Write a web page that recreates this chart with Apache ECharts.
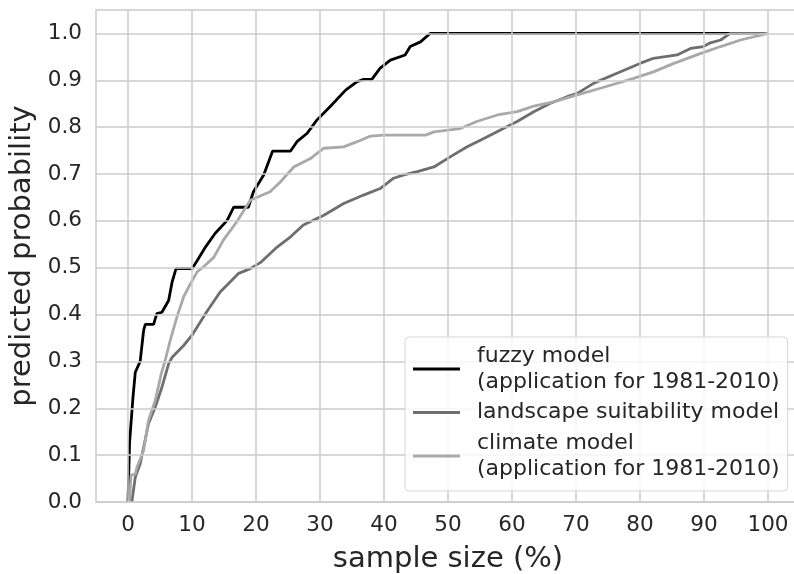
<!DOCTYPE html>
<html><head><meta charset="utf-8">
<script src="https://cdn.jsdelivr.net/npm/echarts@6/dist/echarts.min.js"></script>
<style>html,body{margin:0;padding:0;background:#fff}#c{width:794px;height:574px}</style>
</head><body><div id="c"></div>
<script>
var seriesNames = ['fuzzy model\n(application for 1981-2010)', 'landscape suitability model', 'climate model\n(application for 1981-2010)'];
var xTicks = [0,10,20,30,40,50,60,70,80,90,100];
var yTicks = [0.0,0.1,0.2,0.3,0.4,0.5,0.6,0.7,0.8,0.9,1.0];
var fuzzyX = [0,0.25,0.78,1.14,1.9,2.44,2.7,4.0,4.5,5.3,6.35,6.9,7.5,10.0,10.8,12.1,13.6,15.5,16.5,18.8,19.6,21.2,22.6,25.4,26.4,28.0,29.5,31.6,34.0,35.8,36.8,38.1,39.4,41.0,43.3,44.1,45.7,47.2,100];
var fuzzyY = [0,0.128,0.224,0.277,0.30,0.366,0.379,0.379,0.402,0.405,0.43,0.47,0.498,0.498,0.515,0.544,0.573,0.601,0.629,0.629,0.662,0.698,0.749,0.749,0.769,0.787,0.815,0.844,0.879,0.897,0.902,0.902,0.926,0.943,0.954,0.972,0.982,1.0,1.0];
var landX = [0.6,1.14,1.92,3.2,4.27,5.3,6.35,6.9,8.7,10.0,12.3,14.4,17.3,19.1,20.8,23.3,25.4,27.4,30.6,33.7,36.8,39.4,41.5,43.1,45.2,47.8,50.4,53.0,55.6,58.2,60.8,63.4,66.0,68.6,70.2,72.8,76.4,80.0,82.1,85.8,87.9,89.9,91.0,92.6,94.1,100];
var landY = [0,0.053,0.082,0.167,0.203,0.245,0.295,0.309,0.334,0.356,0.406,0.448,0.488,0.498,0.512,0.544,0.566,0.591,0.612,0.637,0.655,0.669,0.691,0.698,0.705,0.715,0.737,0.758,0.776,0.794,0.812,0.833,0.851,0.865,0.872,0.894,0.915,0.936,0.947,0.954,0.968,0.972,0.98,0.986,1.0,1.0];
var climX = [0.25,0.47,1.14,1.4,2.44,3.2,4.27,5.2,5.8,6.6,7.65,8.7,9.5,10.8,11.8,13.4,14.9,17.0,19.1,22.2,23.8,25.9,28.5,30.6,33.7,35.8,37.9,39.9,46.5,47.8,51.9,54.5,57.7,60.8,63.4,66.5,70.2,73.8,79.0,82.1,85.3,89.4,92.6,95.7,100];
var climY = [0,0.057,0.06,0.074,0.11,0.174,0.217,0.274,0.302,0.345,0.395,0.438,0.459,0.491,0.502,0.522,0.559,0.598,0.644,0.662,0.683,0.715,0.733,0.755,0.758,0.769,0.781,0.783,0.783,0.79,0.797,0.812,0.826,0.833,0.845,0.854,0.869,0.883,0.904,0.918,0.936,0.957,0.972,0.986,1.0];

function pairs(xs, ys){ return xs.map(function(x,i){return [x, ys[i]];}); }
var colors = ['#000000', '#6e6e6e', '#a9a9a9'];
var gridColor = '#cccccc';
var chart = echarts.init(document.getElementById('c'), null, {renderer:'canvas'});
var txt = '#262626';
var font = 'DejaVu Sans';
var gridLines = xTicks.map(function(v){ return {xAxis: v}; }).concat(yTicks.map(function(v){ return {yAxis: v}; }));
chart.setOption({
  animation: false,
  backgroundColor: '#fff',
  grid: {left: 96, top: 10, bottom: 72, right: -6, show: true, borderColor: gridColor, borderWidth: 1.5,
    containLabel: false, outerBoundsMode: 'none'},
  xAxis: {
    type: 'value', min: -5, max: 105, interval: 5,
    name: 'sample size (%)', nameLocation: 'middle', nameGap: 43,
    nameTextStyle: {fontFamily: font, fontSize: 29, color: txt},
    axisLine: {show: false}, axisTick: {show: false},
    axisLabel: {fontFamily: font, fontSize: 21.5, color: txt, margin: 12,
      formatter: function(v){ return xTicks.indexOf(v) >= 0 ? String(v) : ''; }},
    splitLine: {show: false}
  },
  yAxis: {
    type: 'value', min: 0, max: 1.05, interval: 0.05,
    name: 'predicted probability', nameLocation: 'middle', nameGap: 48,
    nameTextStyle: {fontFamily: font, fontSize: 29, color: txt},
    axisLine: {show: false}, axisTick: {show: false},
    axisLabel: {fontFamily: font, fontSize: 21.5, color: txt, margin: 14,
      formatter: function(v){
        var r = Math.round(v*100)/100;
        for (var i=0;i<yTicks.length;i++){ if (Math.abs(yTicks[i]-r) < 1e-6) return yTicks[i].toFixed(1); }
        return '';
      }},
    splitLine: {show: false}
  },
  legend: {
    orient: 'vertical', left: 405, top: 337, z: 20,
    padding: [6, 8, 9, 8], itemGap: 4.5,
    backgroundColor: 'rgba(255,255,255,0.8)', borderColor: '#d6d6d6', borderWidth: 1, borderRadius: 4,
    itemWidth: 47, itemHeight: 3, icon: 'rect',
    textStyle: {fontFamily: font, fontSize: 22, color: txt, lineHeight: 26, padding: [0,0,0,12]},
    data: seriesNames
  },
  series: [
    {name: 'gridlines', type: 'line', data: [], silent: true, z: 0,
      markLine: {silent: true, symbol: ['none','none'], label: {show: false}, animation: false,
        lineStyle: {color: gridColor, width: 1.5, type: 'solid'}, emphasis: {disabled: true}, data: gridLines}},
    {name: seriesNames[0], type: 'line', data: pairs(fuzzyX, fuzzyY), showSymbol: false, lineStyle: {color: colors[0], width: 2.8}, itemStyle: {color: colors[0]}, z: 2},
    {name: seriesNames[1], type: 'line', data: pairs(landX, landY), showSymbol: false, lineStyle: {color: colors[1], width: 2.8}, itemStyle: {color: colors[1]}, z: 3},
    {name: seriesNames[2], type: 'line', data: pairs(climX, climY), showSymbol: false, lineStyle: {color: colors[2], width: 2.8}, itemStyle: {color: colors[2]}, z: 4}
  ]
});
</script></body></html>
